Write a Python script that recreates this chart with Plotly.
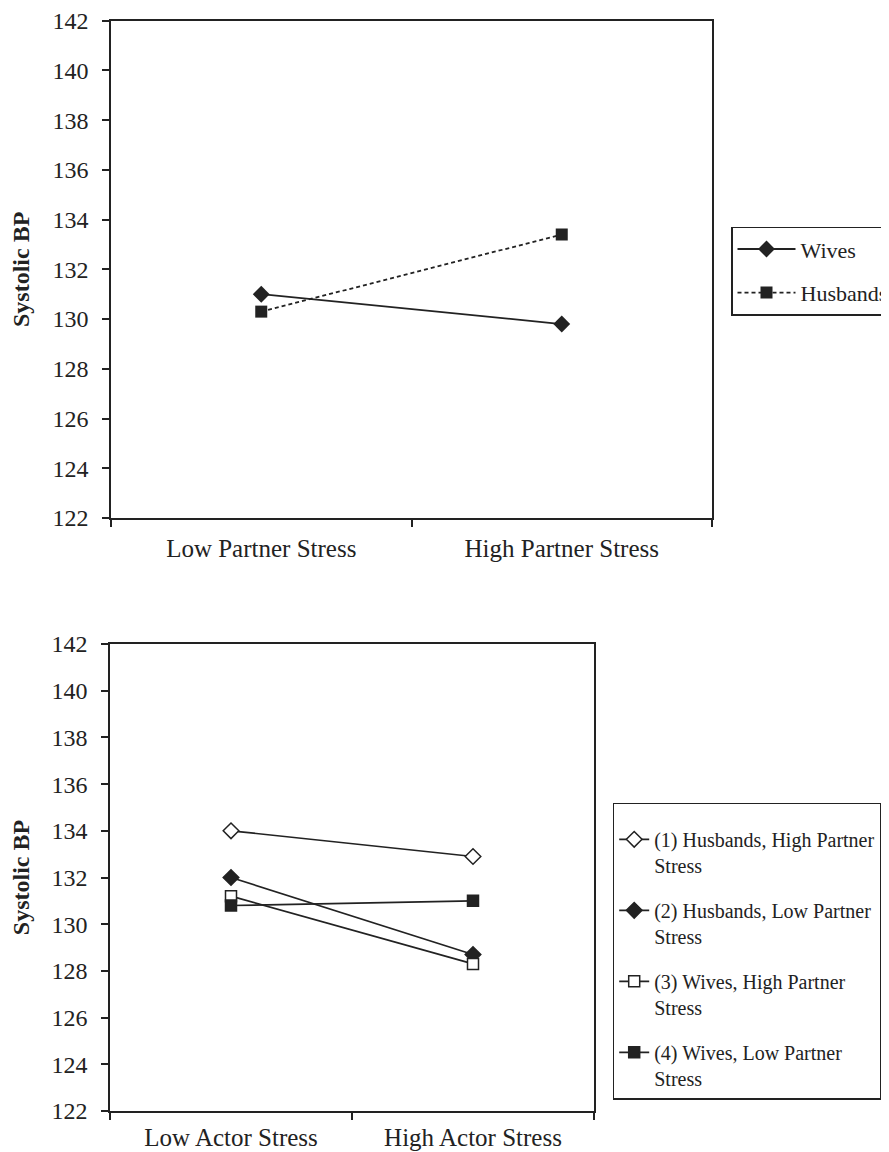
import plotly.graph_objects as go

# ---- data ----
top_categories = ["Low Partner Stress", "High Partner Stress"]
top_wives = [131.0, 129.8]
top_husbands = [130.3, 133.4]

bottom_categories = ["Low Actor Stress", "High Actor Stress"]
husbands_high_partner = [134.0, 132.9]
husbands_low_partner = [132.0, 128.7]
wives_high_partner = [131.2, 128.3]
wives_low_partner = [130.8, 131.0]

y_tick_values = [122, 124, 126, 128, 130, 132, 134, 136, 138, 140, 142]

top_names = ["Wives", "Husbands"]
bottom_names = [
    "(1) Husbands, High Partner<br>Stress",
    "(2) Husbands, Low Partner<br>Stress",
    "(3) Wives, High Partner<br>Stress",
    "(4) Wives, Low Partner<br>Stress",
]

INK = "#222222"
FONT = "Liberation Serif"
OFF = 8  # page body margin
W, H = 889, 1152 - OFF


def px_x(p):
    return (p - OFF) / W


def px_y(p):
    return 1 - (p - OFF) / H


fig = go.Figure()

# top panel
fig.add_trace(go.Scatter(
    x=top_categories, y=top_wives, name=top_names[0], mode="lines+markers",
    line=dict(color=INK, width=1.8),
    marker=dict(symbol="diamond", size=13, color=INK),
    legendgroup="t0",
    xaxis="x", yaxis="y", legend="legend"))
fig.add_trace(go.Scatter(
    x=top_categories, y=top_husbands, name=top_names[1], mode="lines+markers",
    line=dict(color=INK, width=1.8, dash="4px,3px"),
    marker=dict(symbol="square", size=12, color=INK),
    legendgroup="t1",
    xaxis="x", yaxis="y", legend="legend"))

# bottom panel
bottom_series = [husbands_high_partner, husbands_low_partner,
                 wives_high_partner, wives_low_partner]
bottom_symbols = ["diamond-open", "diamond", "square-open", "square"]
bottom_sizes = [12, 12, 11, 11]
for i, (vals, sym, sz) in enumerate(zip(bottom_series, bottom_symbols, bottom_sizes)):
    open_ = sym.endswith("open")
    fig.add_trace(go.Scatter(
        x=bottom_categories, y=vals, name=bottom_names[i], mode="lines+markers",
        line=dict(color=INK, width=1.7),
        marker=dict(symbol=sym.replace("-open", ""), size=sz,
                    color="white" if open_ else INK,
                    line=dict(color=INK, width=1.5)),
        legendgroup=f"g{i}",
        xaxis="x2", yaxis="y2", legend="legend2"))

common_x = dict(
    type="category", range=[-0.5, 1.5], tickson="boundaries",
    ticks="outside", ticklen=7, tickwidth=1.5, tickcolor=INK,
    showline=True, linecolor=INK, linewidth=1.5, mirror=True,
    showgrid=False, zeroline=False, automargin=False,
    ticklabelstandoff=7,
    tickfont=dict(family=FONT, size=25, color=INK),
)
common_y = dict(
    range=[122, 142], tickvals=y_tick_values,
    ticks="outside", ticklen=7, tickwidth=1.5, tickcolor=INK,
    showline=True, linecolor=INK, linewidth=1.5, mirror=True,
    showgrid=False, zeroline=False, automargin=False,
    ticklabelstandoff=9,
    tickfont=dict(family=FONT, size=24, color=INK),
    title=dict(text="<b>Systolic BP</b>", font=dict(family=FONT, size=24, color=INK),
               standoff=16),
)

fig.update_layout(
    width=W, height=H,
    margin=dict(l=0, r=0, t=0, b=0, autoexpand=False),
    paper_bgcolor="white", plot_bgcolor="white",
    font=dict(family=FONT, color=INK),
    xaxis=dict(common_x, domain=[px_x(111), px_x(712)], anchor="y"),
    yaxis=dict(common_y, domain=[px_y(518), px_y(20.7)], anchor="x"),
    xaxis2=dict(common_x, domain=[px_x(110), px_x(594)], anchor="y2",
                ticklabelstandoff=3),
    yaxis2=dict(common_y, domain=[px_y(1111), px_y(644)], anchor="x2"),
    legend=dict(
        x=px_x(731), y=px_y(226.7), xanchor="left", yanchor="top",
        bordercolor=INK, borderwidth=1.5, bgcolor="white",
        font=dict(family=FONT, size=22, color=INK),
        tracegroupgap=12, itemwidth=58,
    ),
    legend2=dict(
        x=px_x(612.7), y=px_y(802.7), xanchor="left", yanchor="top",
        bordercolor=INK, borderwidth=1.5, bgcolor="white",
        font=dict(family=FONT, size=20, color=INK),
        valign="top", tracegroupgap=16,
        title=dict(text=" ", font=dict(family=FONT, size=12)),
    ),
    showlegend=True,
)

fig.write_html("out.html")
